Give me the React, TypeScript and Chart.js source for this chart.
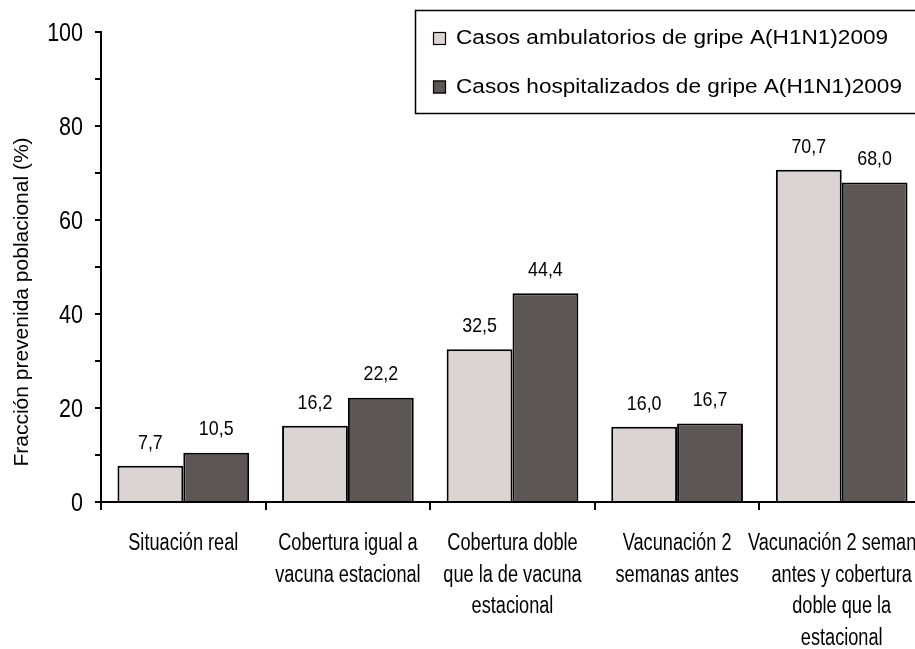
import React, { useEffect, useRef } from "react";
import { Chart, registerables } from "chart.js";

Chart.register(...registerables);

const categories: string[][] = [
  ["Situación real"],
  ["Cobertura igual a", "vacuna estacional"],
  ["Cobertura doble", "que la de vacuna", "estacional"],
  ["Vacunación 2", "semanas antes"],
  ["Vacunación 2 semanas", "antes y cobertura", "doble que la", "estacional"],
];
const ambulatorios: number[] = [7.7, 16.2, 32.5, 16.0, 70.7];
const hospitalizados: number[] = [10.5, 22.2, 44.4, 16.7, 68.0];
const seriesLabels: string[] = [
  "Casos ambulatorios de gripe A(H1N1)2009",
  "Casos hospitalizados de gripe A(H1N1)2009",
];
const yTitle = "Fracción prevenida poblacional (%)";
const yMin = 0;
const yMax = 100;
const yStep = 10;
const yLabelStep = 20;

const SANS = "'Liberation Sans', Arial, sans-serif";

const dataLabelPlugin = {
  id: "dataLabels",
  afterDatasetsDraw(chart: any) {
    const ctx = chart.ctx;
    ctx.save();
    ctx.font = `21px ${SANS}`;
    ctx.fillStyle = "#000";
    ctx.textAlign = "center";
    ctx.textBaseline = "middle";
    chart.data.datasets.forEach((ds: any, i: number) => {
      const meta = chart.getDatasetMeta(i);
      meta.data.forEach((bar: any, j: number) => {
        const v = ds.data[j] as number;
        ctx.save();
        ctx.translate(bar.x, bar.y - 23);
        ctx.scale(0.85, 1);
        ctx.fillText(v.toFixed(1).replace(".", ","), 0, 0);
        ctx.restore();
      });
    });
    ctx.restore();
  },
};

// Condensed axis labels (the reference uses a narrow face)
const narrowTicksPlugin = {
  id: "narrowTicks",
  afterDraw(chart: any) {
    const ctx = chart.ctx;
    const xs = chart.scales.x;
    const ys = chart.scales.y;
    ctx.save();
    ctx.fillStyle = "#000";
    ctx.textBaseline = "alphabetic";
    ctx.font = `23px ${SANS}`;
    ctx.textAlign = "center";
    const sx = 0.79;
    (chart.data.labels as string[][]).forEach((lines, i) => {
      const x = xs.getPixelForTick(i);
      lines.forEach((line, k) => {
        ctx.save();
        ctx.translate(x, 550 + k * 31.5);
        ctx.scale(sx, 1);
        ctx.fillText(line, 0, 0);
        ctx.restore();
      });
    });
    ctx.font = `25px ${SANS}`;
    ctx.textAlign = "right";
    ys.ticks.forEach((t: any) => {
      if (t.value % yLabelStep !== 0) return;
      const y = ys.getPixelForValue(t.value);
      ctx.save();
      ctx.translate(83, y + 9);
      ctx.scale(0.86, 1);
      ctx.fillText(String(t.value), 0, 0);
      ctx.restore();
    });
    ctx.restore();
  },
};

const legendPlugin = {
  id: "boxLegend",
  afterDraw(chart: any) {
    const ctx = chart.ctx;
    ctx.save();
    ctx.strokeStyle = "#000";
    ctx.lineWidth = 1.5;
    ctx.strokeRect(415.5, 10.5, 600, 103);
    ctx.font = `20px ${SANS}`;
    ctx.textAlign = "left";
    ctx.textBaseline = "middle";
    chart.data.datasets.forEach((ds: any, i: number) => {
      const cy = 38.5 + i * 48.5;
      ctx.fillStyle = ds.backgroundColor;
      ctx.fillRect(433, cy - 6.5, 13, 13);
      ctx.lineWidth = 1.2;
      ctx.strokeStyle = "#000";
      ctx.strokeRect(433.5, cy - 6, 12, 12);
      ctx.fillStyle = "#000";
      ctx.save();
      ctx.translate(456, cy);
      ctx.scale(1.13, 1);
      ctx.fillText(ds.label, 0, 0);
      ctx.restore();
    });
    ctx.restore();
  },
};

const yTitlePlugin = {
  id: "yTitle",
  afterDraw(chart: any) {
    const ctx = chart.ctx;
    ctx.save();
    ctx.translate(22, 302);
    ctx.rotate(-Math.PI / 2);
    ctx.font = `21px ${SANS}`;
    ctx.fillStyle = "#000";
    ctx.textAlign = "center";
    ctx.textBaseline = "middle";
    ctx.fillText(yTitle, 0, 0);
    ctx.restore();
  },
};

export default function App() {
  const ref = useRef<HTMLCanvasElement>(null);
  useEffect(() => {
    if (!ref.current) return;
    const chart = new Chart(ref.current, {
      type: "bar",
      data: {
        labels: categories,
        datasets: [
          {
            label: seriesLabels[0],
            data: ambulatorios,
            backgroundColor: "#DCD4D2",
            borderColor: "#000",
            borderWidth: 2,
          },
          {
            label: seriesLabels[1],
            data: hospitalizados,
            backgroundColor: "#5E5654",
            borderColor: "#000",
            borderWidth: 2,
          },
        ],
      },
      options: {
        responsive: false,
        animation: false,
        events: [],
        layout: { padding: { left: 0, right: 16, top: 32, bottom: 0 } },
        plugins: {
          legend: { display: false },
          tooltip: { enabled: false },
          title: { display: false },
        },
        datasets: { bar: { barPercentage: 1.0, categoryPercentage: 0.8 } },
        scales: {
          x: {
            grid: {
              display: true,
              drawOnChartArea: false,
              drawTicks: true,
              tickLength: 8,
              color: "#000",
              lineWidth: 2,
              offset: true,
            },
            border: { display: true, color: "#000", width: 2 },
            ticks: { display: false, autoSkip: false, maxRotation: 0 },
            afterFit: (scale: any) => {
              scale.height = 147;
            },
          },
          y: {
            min: yMin,
            max: yMax,
            grid: {
              display: true,
              drawOnChartArea: false,
              drawTicks: true,
              tickLength: 6,
              color: "#000",
              lineWidth: 2,
            },
            border: { display: true, color: "#000", width: 2 },
            ticks: { display: false, stepSize: yStep },
            afterFit: (scale: any) => {
              scale.width = 101;
            },
          },
        },
      },
      plugins: [dataLabelPlugin, narrowTicksPlugin, legendPlugin, yTitlePlugin],
    });
    return () => chart.destroy();
  }, []);

  return (
    <div
      style={{
        position: "fixed",
        left: 0,
        top: 0,
        width: 915,
        height: 649,
        overflow: "hidden",
        background: "#fff",
      }}
    >
      <canvas ref={ref} width={940} height={649} style={{ display: "block" }} />
    </div>
  );
}
